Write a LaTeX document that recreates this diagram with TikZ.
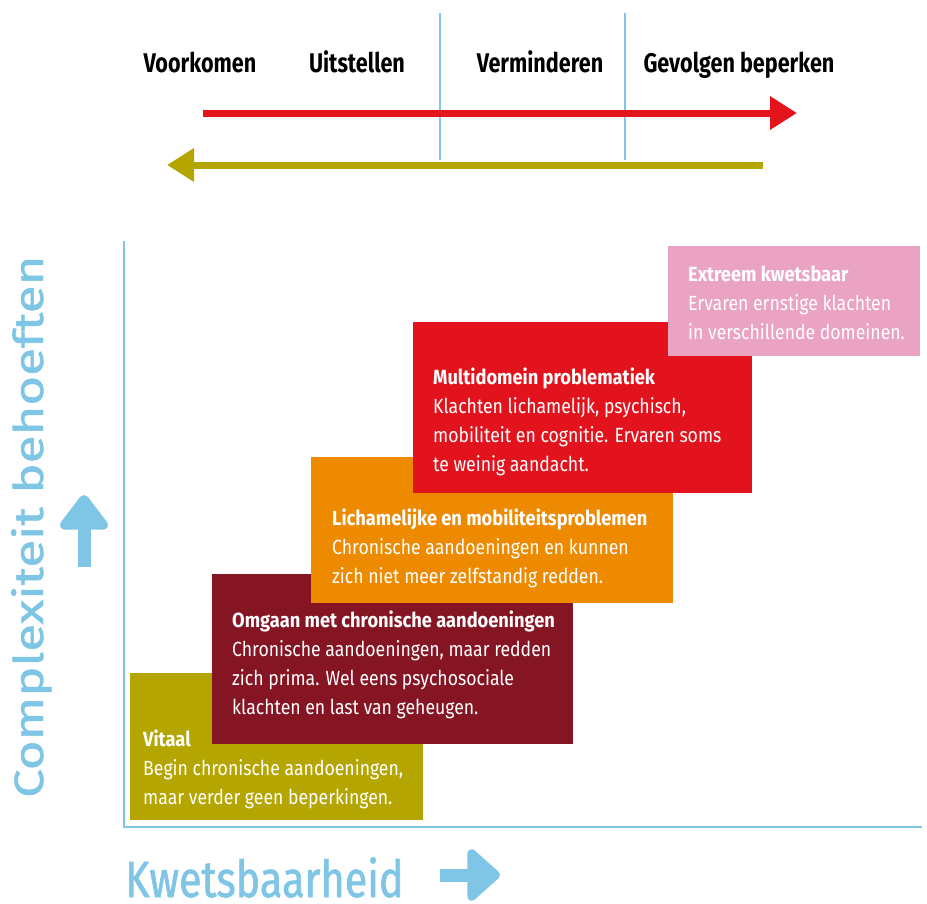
\documentclass[tikz,border=0pt]{standalone}
\usepackage{fontspec}
\usetikzlibrary{arrows.meta}
\setmainfont{Fira Sans}
\newfontfamily\boxfont[UprightFeatures={FakeStretch=0.86},BoldFeatures={FakeStretch=0.89}]{Fira Sans}
\newfontfamily\topfont[FakeStretch=0.8]{Fira Sans}
\newfontfamily\axisfont[FakeStretch=0.81,FakeBold=1.2]{Fira Sans}
\newfontfamily\axisfontv[FakeBold=1.2]{Fira Sans}
\definecolor{olijf}{HTML}{B5A500}
\definecolor{donkerrood}{HTML}{861524}
\definecolor{oranje}{HTML}{EE8A00}
\definecolor{rood}{HTML}{E3131E}
\definecolor{roze}{HTML}{EAA3C3}
\definecolor{lichtblauw}{HTML}{7FC5E5}
\definecolor{pijlrood}{HTML}{E3141C}
\tikzset{
  boxtext/.style={anchor=base west, inner sep=0pt, align=left, text=white,
    font=\boxfont\fontsize{20.5}{28.7}\selectfont},
  toplabel/.style={anchor=base, inner sep=0pt, font=\topfont\bfseries\fontsize{27}{30}\selectfont, text=black},
  sepline/.style={draw=lichtblauw, line width=1.2pt},
  axisline/.style={draw=lichtblauw, line width=2pt},
  bigarrow/.style={line width=7pt},
  bluearrow/.style={draw=lichtblauw, line width=13pt, line join=round},
}
\begin{document}
\begin{tikzpicture}[x=1pt,y=-1pt]
\useasboundingbox (0,0) rectangle (927,903);
% top labels
\node[toplabel] (voorkomen) at (200,72) {Voorkomen};
\node[toplabel] (uitstellen) at (357,72) {Uitstellen};
\node[toplabel] (verminderen) at (540,72) {Verminderen};
\node[toplabel] (gevolgen) at (739,72) {Gevolgen beperken};
% separators
\coordinate (s1a) at (440,13); \coordinate (s1b) at (440,160);
\coordinate (s2a) at (625,13); \coordinate (s2b) at (625,160);
\draw[sepline] (s1a) -- (s1b);
\draw[sepline] (s2a) -- (s2b);
% arrows
\coordinate (ra) at (203,113); \coordinate (rb) at (797,113);
\draw[bigarrow, draw=pijlrood, -{Triangle[length=27pt,width=32pt]}] (ra) -- (rb);
\coordinate (oa) at (763,165); \coordinate (ob) at (167,165);
\draw[bigarrow, draw=olijf, -{Triangle[length=27pt,width=32pt]}] (oa) -- (ob);
% axes
\coordinate (origin) at (124,827);
\coordinate (ytop) at (124,241);
\coordinate (xend) at (922,827);
\draw[axisline] (ytop) -- (origin) -- (xend);
% boxes (the last line's baseline is given)
\fill[olijf] (130,673) rectangle (423,820);
\node[boxtext] (vitaal) at (143,804) {\textbf{Vitaal}\\Begin chronische aandoeningen,\\maar verder geen beperkingen.};
\fill[donkerrood] (212,574) rectangle (573,744);
\node[boxtext] (omgaan) at (232,714) {\textbf{Omgaan met chronische aandoeningen}\\Chronische aandoeningen, maar redden\\zich prima. Wel eens psychosociale\\klachten en last van geheugen.};
\fill[oranje] (311,457) rectangle (673,603);
\node[boxtext] (lich) at (332,583) {\textbf{Lichamelijke en mobiliteitsproblemen}\\Chronische aandoeningen en kunnen\\zich niet meer zelfstandig redden.};
\fill[rood] (413,322) rectangle (752,493);
\node[boxtext] (multi) at (433,471) {\textbf{Multidomein problematiek}\\Klachten lichamelijk, psychisch,\\mobiliteit en cognitie. Ervaren soms\\te weinig aandacht.};
\fill[roze] (668,246) rectangle (920,356);
\node[boxtext] (extreem) at (688,339) {\textbf{Extreem kwetsbaar}\\Ervaren ernstige klachten\\in verschillende domeinen.};
% axis labels
\node[anchor=base west, inner sep=0pt, text=lichtblauw, font=\axisfont\fontsize{51}{55}\selectfont] (kwets) at (125,897) {Kwetsbaarheid};
\node[anchor=base west, inner sep=0pt, rotate=90, text=lichtblauw, font=\axisfontv\fontsize{51}{55}\selectfont] (complex) at (43,798) {\scalebox{1}[0.8]{Complexiteit behoeften}};
% blue arrows
\coordinate (ua) at (84,567); \coordinate (ub) at (84,495);
\draw[bluearrow, -{Triangle[length=38pt,width=55pt,round]}] (ua) -- (ub);
\coordinate (pa) at (440,875); \coordinate (pb) at (500,875);
\draw[bluearrow, -{Triangle[length=35pt,width=60pt,round]}] (pa) -- (pb);
\end{tikzpicture}
\end{document}
